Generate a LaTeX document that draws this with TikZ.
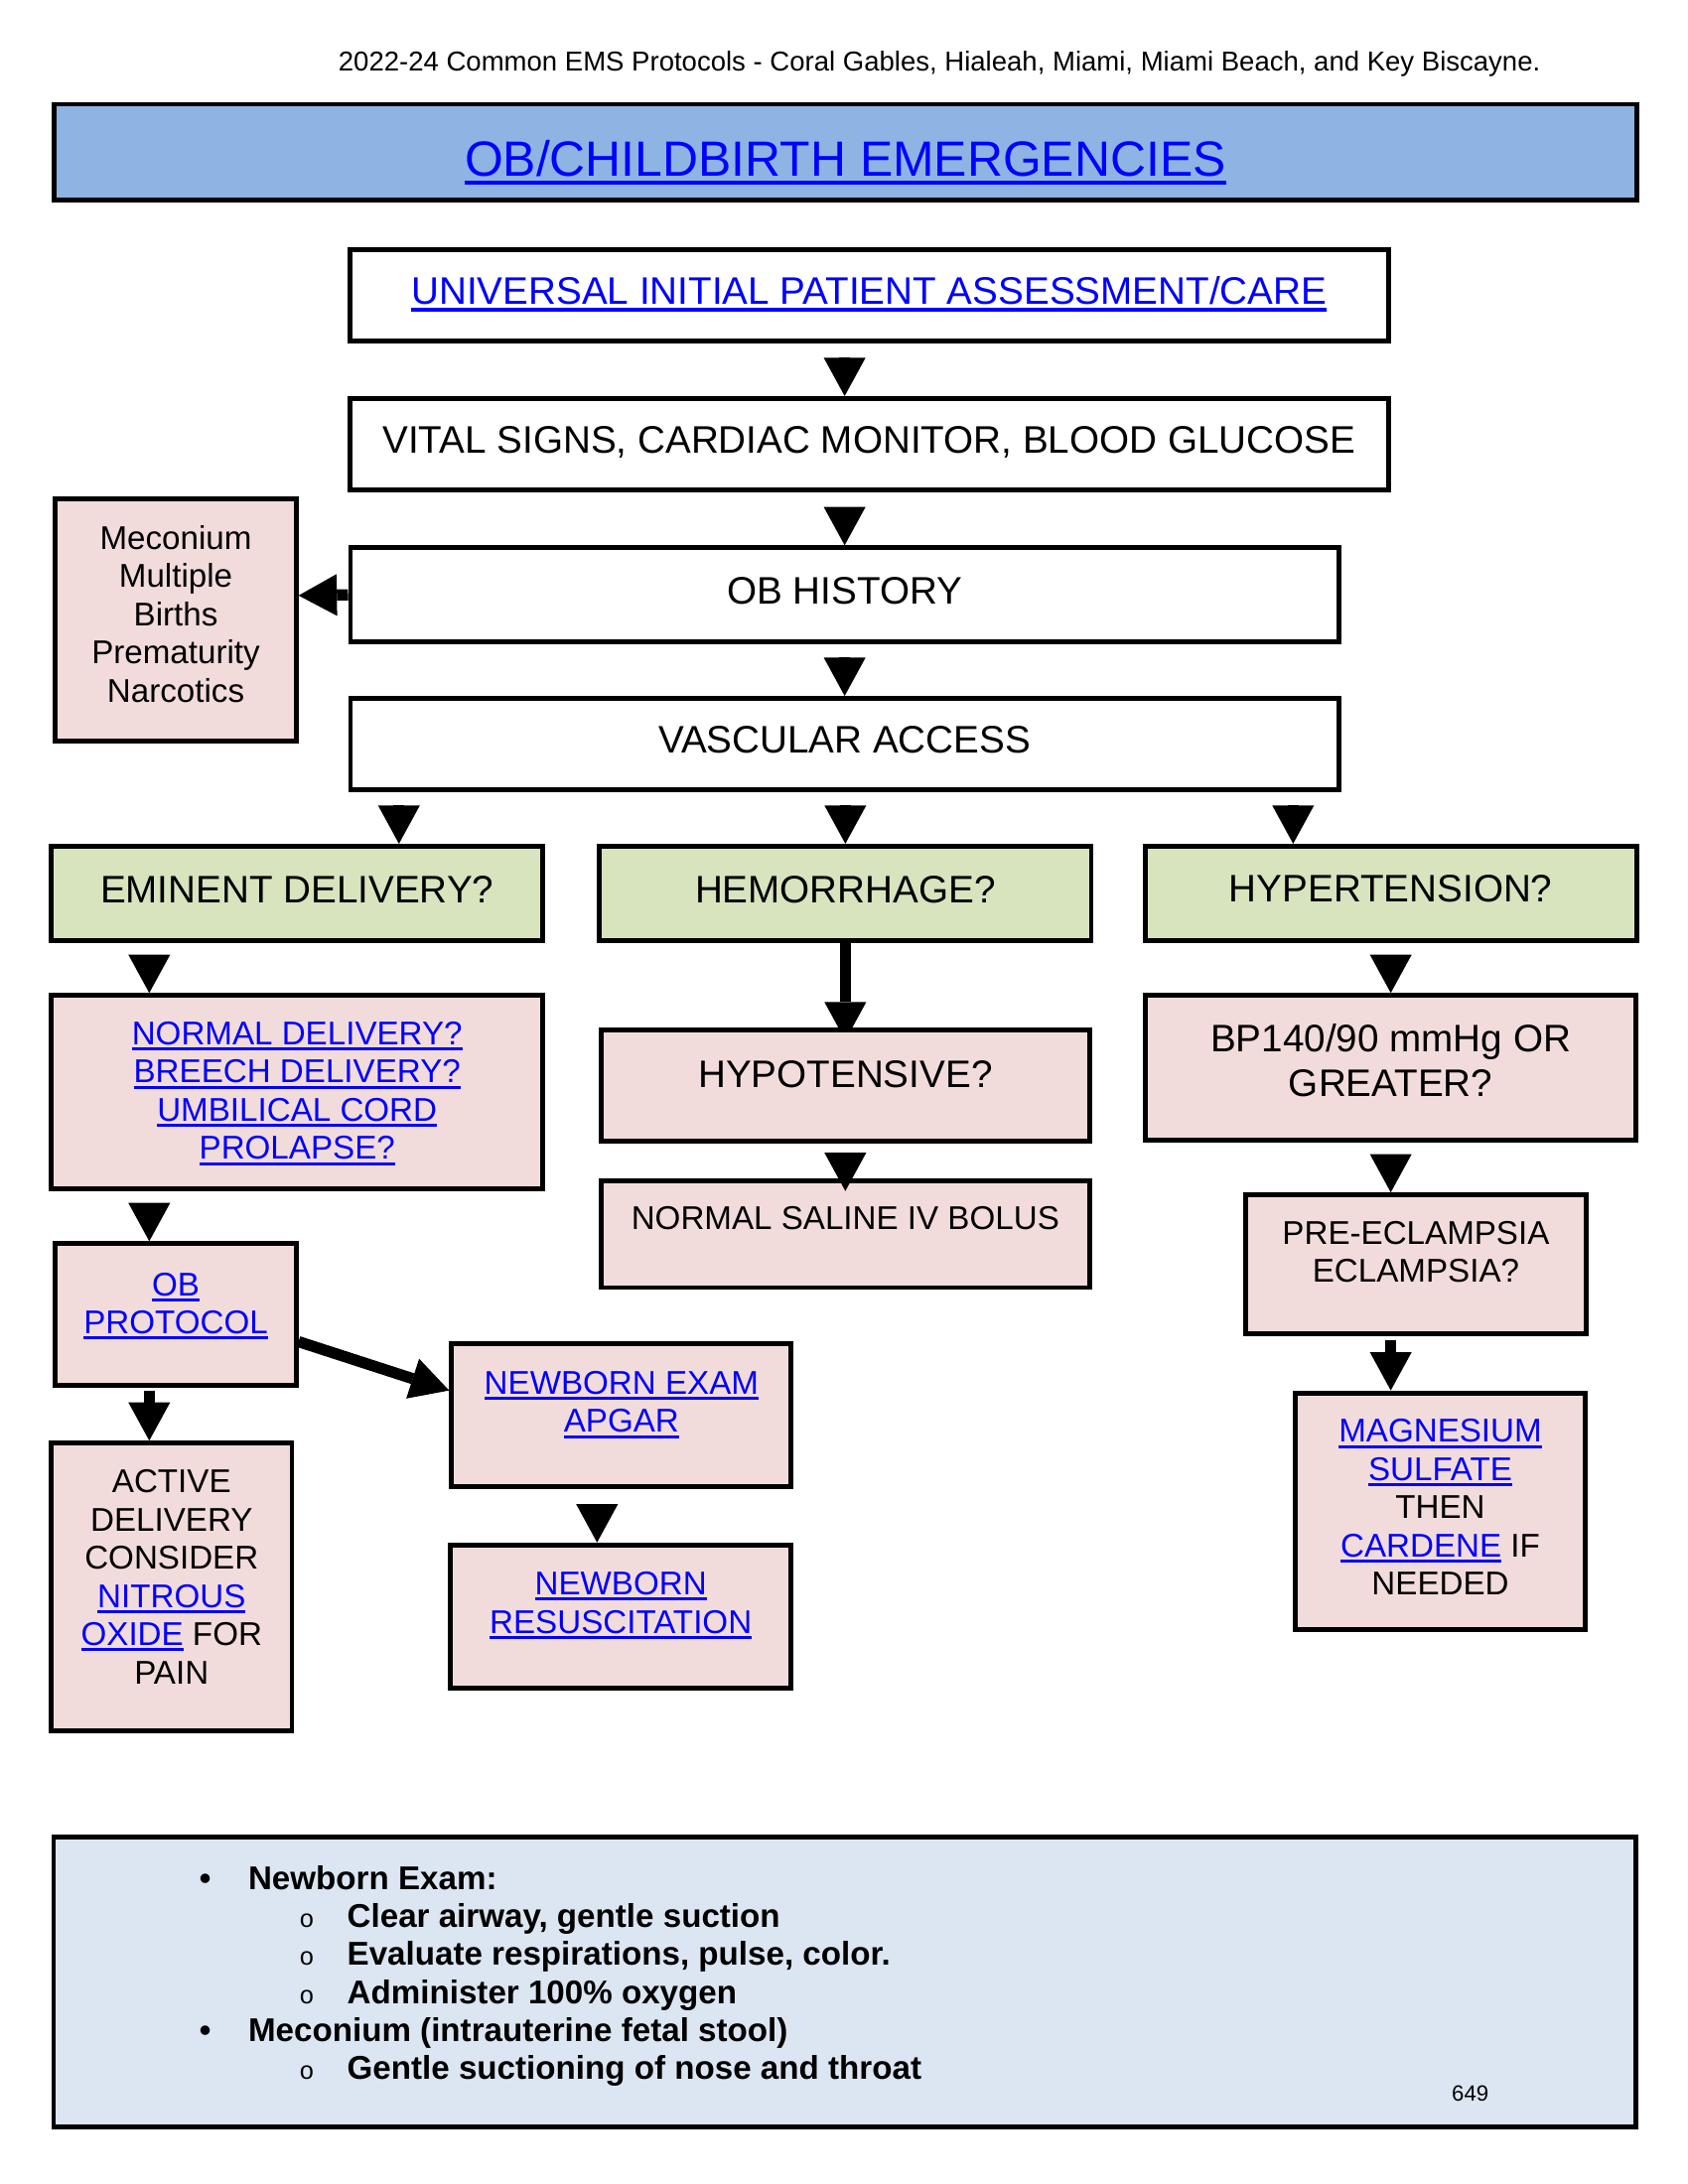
\documentclass[tikz,border=0pt]{standalone}
\usepackage{fontspec}
\setmainfont{Liberation Sans}
\newfontfamily\monofont{Liberation Mono}
\usetikzlibrary{arrows.meta, positioning, backgrounds}

\definecolor{titleblue}{HTML}{8DB4E3}
\definecolor{greenfill}{HTML}{D7E4BD}
\definecolor{pinkfill}{HTML}{F2DCDB}
\definecolor{notesblue}{HTML}{DCE6F2}
\definecolor{linkblue}{HTML}{0000FF}

\newcommand{\bigtxt}{\fontsize{13.75}{16}\selectfont}
\newcommand{\smalltxt}{\fontsize{11.8}{13.7}\selectfont}
\newsavebox{\lnkbox}
\newcommand{\lnk}[1]{\sbox{\lnkbox}{\color{linkblue}#1}{\color{linkblue}\rlap{\rule[-0.175em]{\wd\lnkbox}{0.09em}}}\usebox{\lnkbox}}
\newcommand{\notesub}{\hspace*{35.45pt}\llap{\makebox[29pt]{\monofont\mdseries\fontsize{9}{9}\selectfont o}}}
\newcommand{\notemain}{\llap{\makebox[30.9pt]{\textbullet}}}

\tikzstyle{box} = [rectangle, draw=black, line width=1.75pt, inner sep=0pt, align=center, text depth=3pt]
\tikzstyle{whitebox} = [box, fill=white, font=\bigtxt]
\tikzstyle{greenbox} = [box, fill=greenfill, font=\bigtxt, minimum width=176.25pt, minimum height=33.75pt]
\tikzstyle{pinkbox} = [box, fill=pinkfill, font=\smalltxt]
\tikzstyle{arrow} = [line width=4pt, -{Triangle[width=15pt,length=13.75pt,line width=0pt]}]
\tikzstyle{tiparrow} = [arrow, shorten <=6pt]

\begin{document}
\begin{tikzpicture}[x=0.5pt, y=-0.5pt, align=center]
      \useasboundingbox (0,0) rectangle (1210,1566);

      \node (header) [font=\fontsize{9.8}{11}\selectfont, text depth=0pt] at (673.5,44) {2022-24 Common EMS Protocols - Coral Gables, Hialeah, Miami, Miami Beach, and Key Biscayne.};
      \node (title) [box, fill=titleblue, font=\fontsize{17.75}{20}\selectfont, minimum width=567.25pt, minimum height=34.25pt, text height=17.5pt, text depth=0pt] at (606,109) {\lnk{OB/CHILDBIRTH EMERGENCIES}};

      \node (univ) [whitebox, minimum width=372.25pt, minimum height=32.75pt] at (623,211.5) {\lnk{UNIVERSAL INITIAL PATIENT ASSESSMENT/CARE}};
      \node (vitals) [whitebox, minimum width=372.25pt, minimum height=32.75pt] at (623,318.5) {VITAL SIGNS, CARDIAC MONITOR, BLOOD GLUCOSE};
      \node (obhist) [whitebox, minimum width=354.25pt, minimum height=33.75pt] at (605.5,426.5) {OB HISTORY};
      \node (vascular) [whitebox, minimum width=354.25pt, minimum height=32.75pt] at (605.5,533.5) {VASCULAR ACCESS};
      \node (risks) [pinkbox, minimum width=86.25pt, minimum height=86.75pt, text depth=4.4pt] at (126,444.5) {Meconium\\Multiple\\Births\\Prematurity\\Narcotics};

      \node (eminent) [greenbox] at (213,640.5) {EMINENT DELIVERY?};
      \node (hemorrhage) [greenbox] at (606,640.5) {HEMORRHAGE?};
      \node (hypertension) [greenbox, text depth=3.5pt] at (997,640.5) {HYPERTENSION?};

      \node (delivery) [pinkbox, minimum width=176.25pt, minimum height=69.25pt, text depth=1pt] at (213,783) {\lnk{NORMAL DELIVERY?}\\\lnk{BREECH DELIVERY?}\\\lnk{UMBILICAL CORD}\\\lnk{PROLAPSE?}};
      \node (hypotensive) [pinkbox, font=\bigtxt, minimum width=175.25pt, minimum height=39.75pt, text depth=8.6pt] at (606,778.5) {HYPOTENSIVE?};
      \node (saline) [pinkbox, minimum width=175.25pt, minimum height=38.25pt, text depth=11.5pt] at (606,885) {NORMAL SALINE IV BOLUS};
      \node (bp) [pinkbox, font=\bigtxt, minimum width=175.75pt, minimum height=51.75pt, text depth=5.5pt] at (997,765.5) {BP140/90 mmHg OR\\GREATER?};
      \node (preeclampsia) [pinkbox, minimum width=122.25pt, minimum height=49.75pt, text depth=8.8pt] at (1015,906.5) {PRE-ECLAMPSIA\\ECLAMPSIA?};
      \node (magnesium) [pinkbox, minimum width=103.75pt, minimum height=84.75pt, text depth=2.7pt] at (1032.5,1083.5) {\lnk{MAGNESIUM}\\\lnk{SULFATE}\\THEN\\\lnk{CARDENE} IF\\NEEDED};

      \node (obprotocol) [pinkbox, minimum width=86.25pt, minimum height=50.75pt, text depth=8pt] at (126,942.5) {\lnk{OB}\\\lnk{PROTOCOL}};
      \node (active) [pinkbox, minimum width=86.25pt, minimum height=103.25pt, text depth=7.5pt] at (123,1138) {ACTIVE\\DELIVERY\\CONSIDER\\\lnk{NITROUS}\\\lnk{OXIDE} FOR\\PAIN};
      \node (nbexam) [pinkbox, minimum width=121.75pt, minimum height=51.25pt, text depth=9.8pt] at (445.5,1015) {\lnk{NEWBORN EXAM}\\\lnk{APGAR}};
      \node (nbresus) [pinkbox, minimum width=122.25pt, minimum height=51.25pt, text depth=10pt] at (445,1159) {\lnk{NEWBORN}\\\lnk{RESUSCITATION}};

      \node (notes) [box, fill=notesblue, minimum width=567.25pt, minimum height=104pt] at (605.7,1421) {};
      \node (noteslist) [anchor=north west, inner sep=0pt, align=left, font=\fontsize{11.8}{13.6}\selectfont\bfseries] at (177.6,1337.4) {%
        \notemain Newborn Exam:\\
        \notesub Clear airway, gentle suction\\
        \notesub Evaluate respirations, pulse, color.\\
        \notesub Administer 100\% oxygen\\
        \notemain Meconium (intrauterine fetal stool)\\
        \notesub Gentle suctioning of nose and throat};
      \node (pageno) [font=\fontsize{7.9}{9}\selectfont, text depth=0pt] at (1054,1501) {649};

      \draw [tiparrow] (univ.south -| obhist.north) -- (vitals.north -| obhist.north);
      \draw [tiparrow] (vitals.south -| obhist.north) -- (obhist.north);
      \draw [tiparrow] (obhist.south) -- (vascular.north);
      \draw [arrow] (obhist.west) -- ([yshift=8.75pt]risks.east);

      \draw [tiparrow] ([xshift=-159.75pt]vascular.south) -- ([xshift=36.5pt]eminent.north);
      \draw [tiparrow] (vascular.south -| hemorrhage.north) -- (hemorrhage.north);
      \draw [tiparrow] ([xshift=160.75pt]vascular.south) -- ([xshift=-35pt]hypertension.north);

      \draw [tiparrow] ([xshift=-53pt]eminent.south) -- ([xshift=-53pt]delivery.north);
      \begin{scope}[on background layer]
        \draw [arrow] (hemorrhage.south) -- ([yshift=-4.5pt]hypotensive.north);
      \end{scope}
      \draw [tiparrow, shorten <=3.5pt] (hypotensive.south) -- ([yshift=-4.5pt]saline.north);
      \draw [tiparrow] (hypertension.south) -- (bp.north);
      \draw [tiparrow] (bp.south) -- (bp.south |- preeclampsia.north);
      \draw [arrow, shorten <=1.5pt] ([xshift=-9pt]preeclampsia.south) -- ([xshift=-17.75pt]magnesium.north);

      \draw [tiparrow] ([xshift=-53pt]delivery.south) -- ([xshift=-9.5pt]obprotocol.north);
      \draw [arrow, shorten <=1pt] ([xshift=-9.5pt]obprotocol.south) -- ([xshift=-8pt]active.north);
      \draw [arrow] ([yshift=-9.75pt]obprotocol.east) -- ([yshift=9pt]nbexam.west);
      \draw [tiparrow] ([xshift=-8.75pt]nbexam.south) -- ([xshift=-8.5pt]nbresus.north);
\end{tikzpicture}
\end{document}
